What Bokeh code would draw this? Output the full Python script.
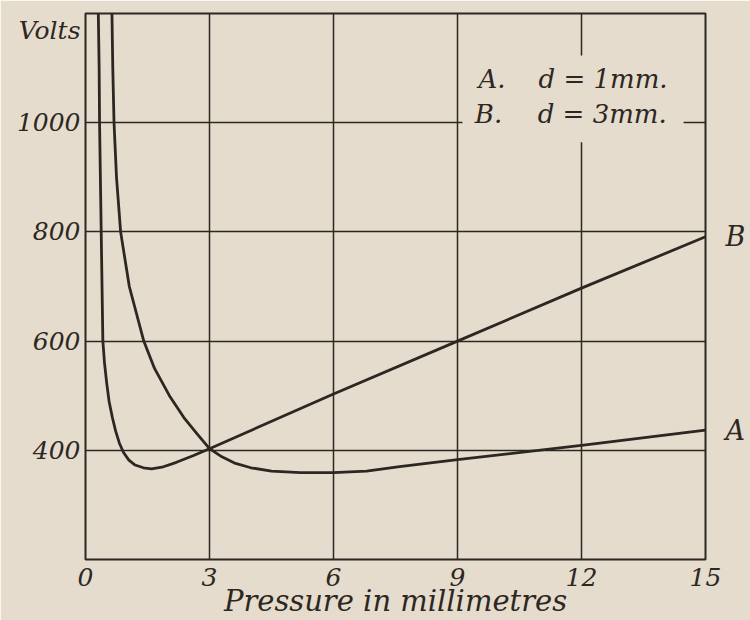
from bokeh.plotting import figure
from bokeh.models import Range1d, Label, BoxAnnotation, LinearAxis, FixedTicker
from bokeh.embed import file_html
from bokeh.resources import INLINE

# ---- data ----
x_ticks = [0, 3, 6, 9, 12, 15]
y_ticks = [400, 600, 800, 1000]
y_caption = "Volts"
y_caption_at = 1169

# Curve A: d = 1 mm
A_pressure = [0.64, 0.66, 0.69, 0.75, 0.85, 1.06, 1.41, 1.67, 2.03, 2.38, 2.70,
              3.0, 3.3, 3.63, 4.0, 4.5, 5.2, 6.0, 6.8, 7.6, 9.0, 12.0, 15.0]
A_volts = [1200, 1100, 1000, 900, 800, 700, 600, 550, 500, 460, 430,
           403, 388, 376, 368, 362, 359, 359, 362, 370, 383, 409, 437]

# Curve B: d = 3 mm
B_pressure = [0.31, 0.33, 0.34, 0.36, 0.38, 0.40, 0.42, 0.46, 0.51, 0.57,
              0.65, 0.73, 0.82, 0.92, 1.05, 1.2, 1.4, 1.6, 1.85, 2.2, 2.6,
              3.0, 6.0, 9.0, 12.0, 15.0]
B_volts = [1200, 1100, 1000, 900, 800, 700, 600, 560, 525, 490,
           460, 435, 413, 396, 382, 373, 368, 366, 369, 378, 390,
           403, 503, 600, 697, 791]

curve_names = ["A", "B"]
legend_keys = ["A.", "B."]
legend_texts = ["d = 1mm.", "d = 3mm."]

# ---- styling ----
BG = "#e5dccd"
INK = "#2d2722"
FONT = "DejaVu Serif"

p = figure(width=750, height=620,
           x_range=Range1d(0, 15), y_range=Range1d(200, 1200),
           output_backend="svg", toolbar_location=None,
           min_border_left=85, min_border_right=45,
           min_border_top=13, min_border_bottom=60)

p.background_fill_color = BG
p.border_fill_color = BG
p.outline_line_color = INK
p.outline_line_width = 2

# right-hand axis naming the curve ends
right_axis = LinearAxis(ticker=FixedTicker(ticks=[A_volts[-1], B_volts[-1]]),
                        major_label_overrides={A_volts[-1]: curve_names[0],
                                               B_volts[-1]: curve_names[1]})
p.add_layout(right_axis, "right")

p.xaxis.ticker = x_ticks
p.yaxis[0].ticker = FixedTicker(ticks=y_ticks + [y_caption_at])
p.yaxis[0].major_label_overrides = {y_caption_at: y_caption}
p.ygrid.ticker = FixedTicker(ticks=y_ticks)
p.xgrid.ticker = FixedTicker(ticks=x_ticks)

for ax in p.xaxis + p.yaxis:
    ax.axis_line_color = None
    ax.major_tick_line_color = None
    ax.minor_tick_line_color = None
    ax.major_tick_out = 0
    ax.major_tick_in = 0
    ax.major_label_text_font = FONT
    ax.major_label_text_font_style = "italic"
    ax.major_label_text_color = INK
    ax.major_label_text_font_size = "25px"
p.xaxis.major_label_standoff = 8
p.yaxis[0].major_label_standoff = 5
right_axis.major_label_standoff = 20
right_axis.major_label_text_font_size = "27px"
p.xaxis.axis_label = "Pressure in millimetres"
p.xaxis.axis_label_text_font = FONT
p.xaxis.axis_label_text_font_style = "italic"
p.xaxis.axis_label_text_font_size = "29px"
p.xaxis.axis_label_text_color = INK
p.xaxis.axis_label_standoff = -5

for g in (p.xgrid, p.ygrid):
    g.grid_line_color = INK
    g.grid_line_width = 1.5
    g.grid_line_alpha = 1.0

p.line(A_pressure, A_volts, line_color=INK, line_width=2.8, line_join="round")
p.line(B_pressure, B_volts, line_color=INK, line_width=2.8, line_join="round")

# key box (covers grid like the printed key)
p.add_layout(BoxAnnotation(left=9.12, right=14.47, bottom=964, top=1123,
                           fill_color=BG, fill_alpha=1.0, line_alpha=0))
key_rows = [(9.51, 10.96, 1080), (9.42, 10.94, 1016)]
for (kx, tx, ky), key, txt in zip(key_rows, legend_keys, legend_texts):
    p.add_layout(Label(x=kx, y=ky, text=key, text_baseline="alphabetic",
                       text_font=FONT, text_font_style="italic",
                       text_font_size="26px", text_color=INK))
    p.add_layout(Label(x=tx, y=ky, text=txt, text_baseline="alphabetic",
                       text_font=FONT, text_font_style="italic",
                       text_font_size="26px", text_color=INK))

open("out.html", "w").write(file_html(p, INLINE))
